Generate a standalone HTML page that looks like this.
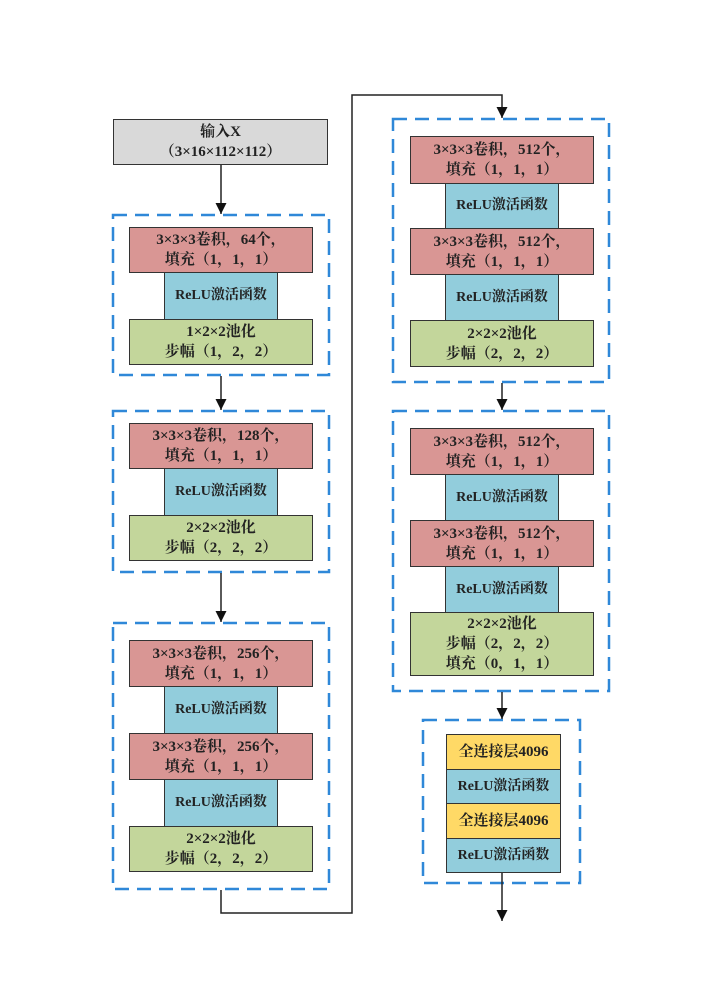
<!DOCTYPE html>
<html><head><meta charset="utf-8"><style>
body{margin:0;width:709px;height:982px;background:#fff;position:relative;overflow:hidden;font-family:"Liberation Serif","Noto Serif CJK SC",serif;font-weight:bold;color:#222}
.b{position:absolute;border:1.5px solid #333;box-sizing:border-box;display:flex;align-items:center;justify-content:center;text-align:center;font-size:15px;line-height:20px}
.r{background:#d99694}.u{background:#92cddc;font-size:14px}.g{background:#c3d69b}.y{background:#ffd966}.gr{background:#d9d9d9}
svg{position:absolute;left:0;top:0}
</style></head><body>
<svg width="709" height="982">
<defs><marker id="a" markerWidth="12" markerHeight="12" refX="11" refY="5.5" orient="auto" markerUnits="userSpaceOnUse"><path d="M0,0 L11,5.5 L0,11z" fill="#111"/></marker></defs>
<g stroke="#2f88d8" stroke-width="2.5" fill="none" stroke-dasharray="14 8">
<rect x="113" y="215" width="216" height="160"/>
<rect x="113" y="411" width="216" height="161"/>
<rect x="113" y="623" width="216" height="266"/>
<rect x="393" y="119" width="216" height="263"/>
<rect x="393" y="411" width="216" height="280"/>
<rect x="423" y="720" width="157" height="163"/>
</g>
<g stroke="#222" stroke-width="1.5" fill="none">
<line x1="221" y1="165" x2="221" y2="214" marker-end="url(#a)"/>
<line x1="221" y1="376" x2="221" y2="410" marker-end="url(#a)"/>
<line x1="221" y1="573" x2="221" y2="622" marker-end="url(#a)"/>
<polyline points="221,890 221,913 352,913 352,95 502,95 502,118" marker-end="url(#a)"/>
<line x1="502" y1="383" x2="502" y2="410" marker-end="url(#a)"/>
<line x1="502" y1="692" x2="502" y2="719" marker-end="url(#a)"/>
<line x1="502" y1="873" x2="502" y2="921" marker-end="url(#a)"/>
</g></svg>
<div class="b gr" style="left:113px;top:119px;width:215px;height:46px">输入X<br>（3×16×112×112）</div>

<div class="b r" style="left:129px;top:227px;width:184px;height:46px">3×3×3卷积，64个，<br>填充（1，1，1）</div>
<div class="b u" style="left:164px;top:272px;width:114px;height:48px">ReLU激活函数</div>
<div class="b g" style="left:129px;top:319px;width:184px;height:46px">1×2×2池化<br>步幅（1，2，2）</div>

<div class="b r" style="left:129px;top:423px;width:184px;height:46px">3×3×3卷积，128个，<br>填充（1，1，1）</div>
<div class="b u" style="left:164px;top:468px;width:114px;height:48px">ReLU激活函数</div>
<div class="b g" style="left:129px;top:515px;width:184px;height:46px">2×2×2池化<br>步幅（2，2，2）</div>

<div class="b r" style="left:129px;top:640px;width:184px;height:47px">3×3×3卷积，256个，<br>填充（1，1，1）</div>
<div class="b u" style="left:164px;top:686px;width:114px;height:48px">ReLU激活函数</div>
<div class="b r" style="left:129px;top:733px;width:184px;height:47px">3×3×3卷积，256个，<br>填充（1，1，1）</div>
<div class="b u" style="left:164px;top:779px;width:114px;height:48px">ReLU激活函数</div>
<div class="b g" style="left:129px;top:826px;width:184px;height:46px">2×2×2池化<br>步幅（2，2，2）</div>

<div class="b r" style="left:410px;top:136px;width:184px;height:48px">3×3×3卷积，512个，<br>填充（1，1，1）</div>
<div class="b u" style="left:445px;top:183px;width:114px;height:46px">ReLU激活函数</div>
<div class="b r" style="left:410px;top:228px;width:184px;height:47px">3×3×3卷积，512个，<br>填充（1，1，1）</div>
<div class="b u" style="left:445px;top:274px;width:114px;height:47px">ReLU激活函数</div>
<div class="b g" style="left:410px;top:320px;width:184px;height:47px">2×2×2池化<br>步幅（2，2，2）</div>

<div class="b r" style="left:410px;top:428px;width:184px;height:47px">3×3×3卷积，512个，<br>填充（1，1，1）</div>
<div class="b u" style="left:445px;top:474px;width:114px;height:47px">ReLU激活函数</div>
<div class="b r" style="left:410px;top:520px;width:184px;height:47px">3×3×3卷积，512个，<br>填充（1，1，1）</div>
<div class="b u" style="left:445px;top:566px;width:114px;height:47px">ReLU激活函数</div>
<div class="b g" style="left:410px;top:612px;width:184px;height:64px">2×2×2池化<br>步幅（2，2，2）<br>填充（0，1，1）</div>

<div class="b y" style="left:446px;top:734px;width:115px;height:36px">全连接层4096</div>
<div class="b u" style="left:446px;top:769px;width:115px;height:35px">ReLU激活函数</div>
<div class="b y" style="left:446px;top:803px;width:115px;height:36px">全连接层4096</div>
<div class="b u" style="left:446px;top:838px;width:115px;height:35px">ReLU激活函数</div>
</body></html>
